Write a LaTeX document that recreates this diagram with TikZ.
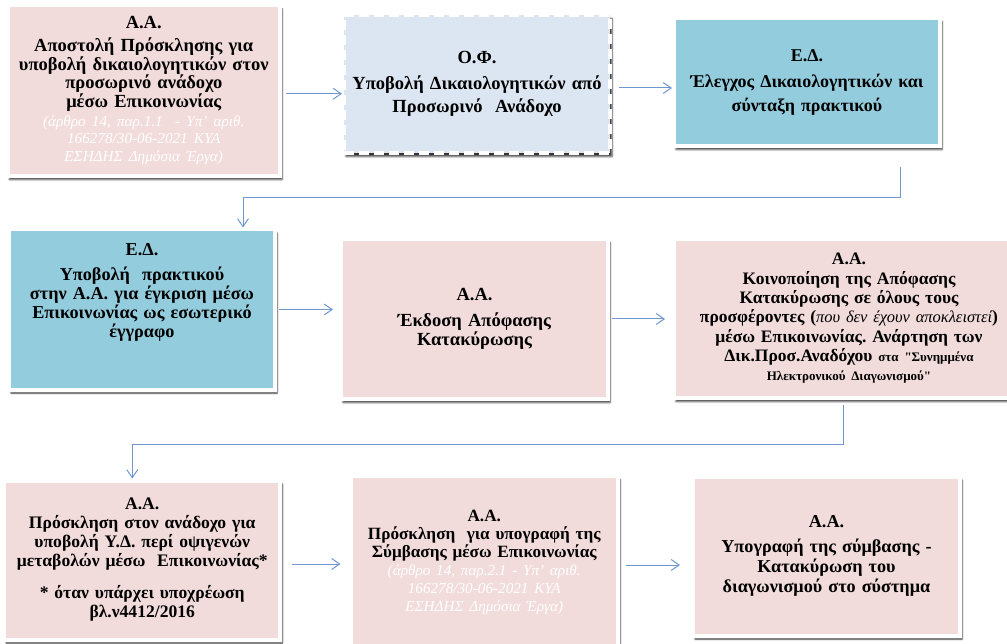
\documentclass[tikz,border=0pt]{standalone}
\usepackage{fontspec}
\setmainfont{Liberation Serif}[Ligatures=TeXOff]
\usepackage{xcolor}
\usetikzlibrary{positioning,calc,shadows,shadows.blur,arrows.meta}

\definecolor{aapink}{HTML}{F2DCDB}
\definecolor{edteal}{HTML}{93CDDD}
\definecolor{ofblue}{HTML}{DCE6F2}
\definecolor{flowblue}{HTML}{6F96CE}

\setlength{\lineskiplimit}{-20pt}
\newcommand{\lawref}[1]{{\color{white}\mdseries\itshape\fontsize{15.2}{18.5}\selectfont #1}}

\begin{document}
\begin{tikzpicture}[x=1pt, y=-1pt,
    stepbox/.style={draw=white, line width=4pt, align=center, inner sep=3pt,
        blur shadow={shadow xshift=2pt, shadow yshift=-3.5pt, shadow blur steps=4, shadow opacity=80}},
    aabox/.style={stepbox, fill=aapink},
    edbox/.style={stepbox, fill=edteal},
    ofbox/.style={stepbox, fill=ofblue, dash pattern=on 10pt off 5pt},
    txt/.style 2 args={font=\bfseries\fontsize{#1}{#2}\selectfont},
    flow/.style={draw=flowblue, line width=1pt, -{Straight Barb[length=8pt,width=11pt]}}]

    \useasboundingbox (0,0) rectangle (1007,644);

    \node[aabox, minimum width=272.5pt, minimum height=170.5pt, text width=262pt, txt={18.5}{17.6}] (aa1) at (143.75,90.75)
        {Α.Α.\\[5pt] Αποστολή Πρόσκλησης για\\ υποβολή δικαιολογητικών στον\\ προσωρινό ανάδοχο\\ μέσω Επικοινωνίας\\[1pt]
         \lawref{(άρθρο 14, παρ.1.1\ \ - Υπ’ αριθ.}\\ \lawref{166278/30-06-2021 ΚΥΑ}\\ \lawref{ΕΣΗΔΗΣ Δημόσια Έργα)}};
    \node[ofbox, minimum width=266pt, minimum height=138pt, text width=256pt, txt={18.5}{23}] (of1) at (477,84)
        {Ο.Φ.\\[3pt] Υποβολή Δικαιολογητικών από\\ Προσωρινό\ \ Ανάδοχο};
    \node[edbox, minimum width=266pt, minimum height=128pt, text width=256pt, txt={18}{24}] (ed1) at (807,82)
        {Ε.Δ.\\[2pt] Έλεγχος Δικαιολογητικών και\\ σύνταξη πρακτικού};

    \node[edbox, minimum width=266pt, minimum height=160pt, text width=256pt, txt={18.2}{19}] (ed2) at (142,309.5)
        {Ε.Δ.\\[6pt] Υποβολή\ \ πρακτικού\\ στην Α.Α. για έγκριση μέσω\\ Επικοινωνίας ως εσωτερικό\\ έγγραφο\\[20pt]\mbox{}};
    \node[aabox, minimum width=267pt, minimum height=160pt, text width=257pt, txt={18.5}{19}] (aa2) at (474.5,319)
        {Α.Α.\\[7pt] Έκδοση Απόφασης\\ Κατακύρωσης};
    \node[aabox, minimum width=350pt, minimum height=159pt, text width=340pt, txt={17.5}{19.3}] (aa3) at (849,318.5)
        {Α.Α.\\ Κοινοποίηση της Απόφασης\\ Κατακύρωσης σε όλους τους\\
         προσφέροντες ({\mdseries\itshape\fontsize{16.5}{19.3}\selectfont που δεν έχουν αποκλειστεί})\\
         μέσω Επικοινωνίας.\ Ανάρτηση των\\ Δικ.Προσ.Αναδόχου {\fontsize{13}{19.3}\selectfont στα "Συνημμένα}\\
         {\fontsize{13}{19.3}\selectfont Ηλεκτρονικού Διαγωνισμού"}};

    \node[aabox, minimum width=266.5pt, minimum height=159pt, text width=270pt, txt={17.6}{19}] (aa4) at (142.25,560)
        {Α.Α.\\ Πρόσκληση στον ανάδοχο για\\ υποβολή Υ.Δ. περί οψιγενών\\ μεταβολών μέσω\ \ Επικοινωνίας*\\[13pt]
         * όταν υπάρχει υποχρέωση\\ βλ.ν4412/2016};
    \node[aabox, minimum width=267.5pt, minimum height=171.5pt, text width=257pt, txt={17.2}{18}] (aa5) at (484.25,562)
        {Α.Α.\\ Πρόσκληση\ \ για υπογραφή της\\ Σύμβασης μέσω Επικοινωνίας\\
         \lawref{(άρθρο 14, παρ.2.1 - Υπ’ αριθ.}\\ \lawref{166278/30-06-2021 ΚΥΑ}\\ \lawref{ΕΣΗΔΗΣ Δημόσια Έργα)}};
    \node[aabox, minimum width=267pt, minimum height=159pt, text width=257pt, txt={18.2}{20}] (aa6) at (826.5,556)
        {Α.Α.\\[5pt] Υπογραφή της σύμβασης -\\ Κατακύρωση του\\ διαγωνισμού στο σύστημα};

    \draw[flow] ([xshift=4pt,yshift=-3pt]aa1.east) -- ([yshift=-3pt]aa1.east -| of1.west);
    \draw[flow] ([xshift=7pt,yshift=-4pt]of1.east) -- ([yshift=-4pt]of1.east -| ed1.west);
    \draw[flow] ($(ed1.south)+(93,19)$) |- ($(ed2.north)+(101,-30)$) -- ($(ed2.north)+(101,0)$);

    \draw[flow] ([xshift=2pt]ed2.east) -- ([xshift=-6pt]ed2.east -| aa2.west);
    \draw[flow] ([xshift=2pt]aa2.east) -- ([xshift=-7pt]aa2.east -| aa3.west);
    \draw[flow] ($(aa3.south)+(-6,5)$) |- ($(aa4.north)+(-10,-34)$) -- ($(aa4.north)+(-10,0)$);

    \draw[flow] ([xshift=10pt,yshift=-4pt]aa4.east) -- ([xshift=-8pt,yshift=-4pt]aa4.east -| aa5.west);
    \draw[flow] ([xshift=6pt,yshift=-3pt]aa5.east) -- ([xshift=-11pt,yshift=-3pt]aa5.east -| aa6.west);
\end{tikzpicture}
\end{document}
